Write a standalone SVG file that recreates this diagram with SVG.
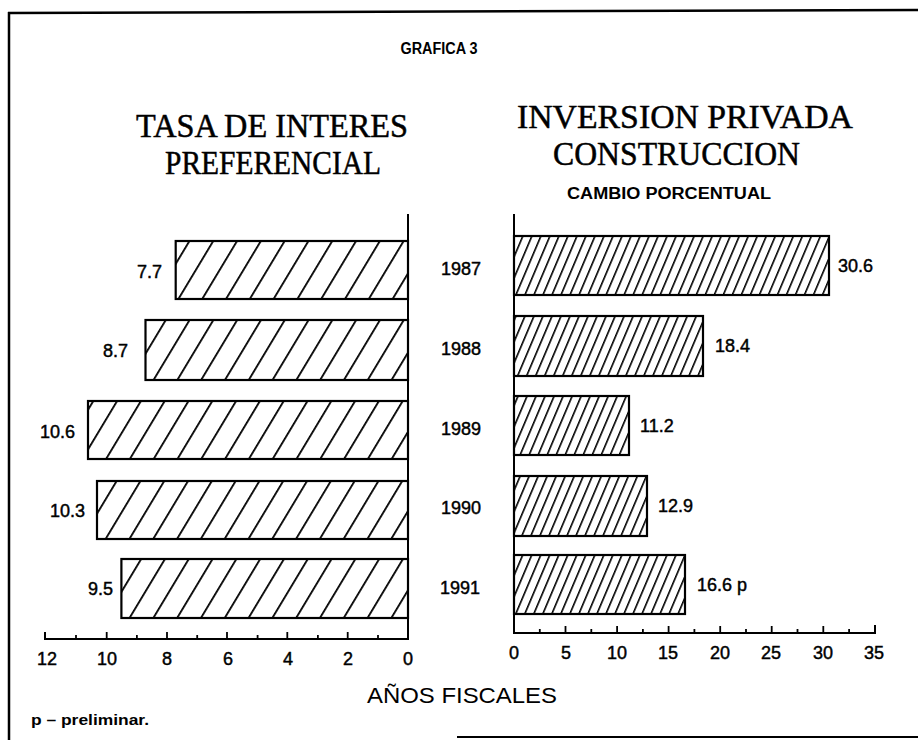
<svg xmlns="http://www.w3.org/2000/svg" width="918" height="740" viewBox="0 0 918 740">
<style>
.num{font-family:"Liberation Sans",Arial,sans-serif;font-size:18px;fill:#000;stroke:#000;stroke-width:0.45}
.ttl{font-family:"Liberation Serif","Times New Roman",serif;font-size:34px;fill:#000;stroke:#000;stroke-width:0.5}
.sans{font-family:"Liberation Sans",Arial,sans-serif;fill:#000}
.bar{stroke:#000;stroke-width:2.2}
.ax{stroke:#000;stroke-width:2;fill:none}
.tk{stroke:#000;stroke-width:1.8}
</style>
<defs>
<pattern id="hl" patternUnits="userSpaceOnUse" width="20.4" height="20" patternTransform="rotate(31)">
<rect x="0" y="0" width="1.8" height="20" fill="#000"/>
</pattern>
<pattern id="hr" patternUnits="userSpaceOnUse" width="8.3" height="20" patternTransform="rotate(23)">
<rect x="0" y="0" width="1.6" height="20" fill="#000"/>
</pattern>
</defs>
<rect width="918" height="740" fill="#fff"/>
<g id="frame">
<line x1="8" y1="13" x2="918" y2="10" stroke="#000" stroke-width="2.5"/>
<line x1="9" y1="12" x2="9" y2="740" stroke="#000" stroke-width="2.5"/>
<line x1="457" y1="737" x2="918" y2="737" stroke="#000" stroke-width="2"/>
</g>
<g id="titles">
<text class="sans" x="439" y="54" font-size="16" font-weight="bold" text-anchor="middle" textLength="77" lengthAdjust="spacingAndGlyphs">GRAFICA 3</text>
<text class="ttl" x="136" y="137" textLength="272" lengthAdjust="spacingAndGlyphs">TASA DE INTERES</text>
<text class="ttl" x="165" y="174" textLength="216" lengthAdjust="spacingAndGlyphs">PREFERENCIAL</text>
<text class="ttl" x="517" y="128" textLength="336" lengthAdjust="spacingAndGlyphs">INVERSION PRIVADA</text>
<text class="ttl" x="553" y="165" textLength="247" lengthAdjust="spacingAndGlyphs">CONSTRUCCION</text>
<text class="sans" x="567" y="199" font-size="16" font-weight="bold" textLength="204" lengthAdjust="spacingAndGlyphs">CAMBIO PORCENTUAL</text>
</g>
<g id="left-bars">
<rect class="bar" x="175.7" y="241" width="232.3" height="58" fill="url(#hl)"/>
<rect class="bar" x="145.5" y="320" width="262.5" height="60" fill="url(#hl)"/>
<rect class="bar" x="88" y="401" width="320" height="58" fill="url(#hl)"/>
<rect class="bar" x="97" y="481" width="311" height="58" fill="url(#hl)"/>
<rect class="bar" x="121.4" y="559" width="286.6" height="59" fill="url(#hl)"/>
<text class="num" x="162" y="278" text-anchor="end">7.7</text>
<text class="num" x="128" y="357" text-anchor="end">8.7</text>
<text class="num" x="75" y="438" text-anchor="end">10.6</text>
<text class="num" x="85" y="517" text-anchor="end">10.3</text>
<text class="num" x="113" y="595" text-anchor="end">9.5</text>
</g>
<g id="years">
<text class="num" x="461" y="275" text-anchor="middle">1987</text>
<text class="num" x="461" y="355" text-anchor="middle">1988</text>
<text class="num" x="461" y="435" text-anchor="middle">1989</text>
<text class="num" x="461" y="514" text-anchor="middle">1990</text>
<text class="num" x="460" y="594" text-anchor="middle">1991</text>
</g>
<g id="right-bars">
<rect class="bar" x="514" y="236" width="315" height="59" fill="url(#hr)"/>
<rect class="bar" x="514" y="316" width="189" height="60" fill="url(#hr)"/>
<rect class="bar" x="514" y="396" width="115" height="59" fill="url(#hr)"/>
<rect class="bar" x="514" y="476" width="133" height="60" fill="url(#hr)"/>
<rect class="bar" x="514" y="555" width="171" height="59" fill="url(#hr)"/>
<text class="num" x="838" y="272">30.6</text>
<text class="num" x="715" y="352">18.4</text>
<text class="num" x="640" y="432">11.2</text>
<text class="num" x="658" y="512">12.9</text>
<text class="num" x="697" y="591">16.6 p</text>
</g>
<g id="connectors">
<path class="ax" d="M408 214 V639 H45 V632"/>
<g class="tk">
<line x1="76" y1="639" x2="76" y2="635"/>
<line x1="106.7" y1="639" x2="106.7" y2="632"/>
<line x1="136.9" y1="639" x2="136.9" y2="635"/>
<line x1="167" y1="639" x2="167" y2="632"/>
<line x1="197.2" y1="639" x2="197.2" y2="635"/>
<line x1="227" y1="639" x2="227" y2="632"/>
<line x1="257.6" y1="639" x2="257.6" y2="635"/>
<line x1="287.3" y1="639" x2="287.3" y2="632"/>
<line x1="317.9" y1="639" x2="317.9" y2="635"/>
<line x1="347.7" y1="639" x2="347.7" y2="632"/>
<line x1="378" y1="639" x2="378" y2="635"/>
</g>
<path class="ax" d="M514 214 V633 H875 V625"/>
<g class="tk">
<line x1="539.8" y1="633" x2="539.8" y2="629"/>
<line x1="565.5" y1="633" x2="565.5" y2="626"/>
<line x1="591.3" y1="633" x2="591.3" y2="629"/>
<line x1="617.1" y1="633" x2="617.1" y2="626"/>
<line x1="642.9" y1="633" x2="642.9" y2="629"/>
<line x1="668.6" y1="633" x2="668.6" y2="626"/>
<line x1="694.4" y1="633" x2="694.4" y2="629"/>
<line x1="720.2" y1="633" x2="720.2" y2="626"/>
<line x1="746" y1="633" x2="746" y2="629"/>
<line x1="771.7" y1="633" x2="771.7" y2="626"/>
<line x1="797.5" y1="633" x2="797.5" y2="629"/>
<line x1="823.3" y1="633" x2="823.3" y2="626"/>
<line x1="849.1" y1="633" x2="849.1" y2="629"/>
</g>
</g>
<g id="axis-labels">
<text class="num" x="47" y="665" text-anchor="middle">12</text>
<text class="num" x="107" y="665" text-anchor="middle">10</text>
<text class="num" x="167" y="665" text-anchor="middle">8</text>
<text class="num" x="228" y="665" text-anchor="middle">6</text>
<text class="num" x="288" y="665" text-anchor="middle">4</text>
<text class="num" x="348" y="665" text-anchor="middle">2</text>
<text class="num" x="408" y="665" text-anchor="middle">0</text>
<text class="num" x="514" y="659" text-anchor="middle">0</text>
<text class="num" x="566" y="659" text-anchor="middle">5</text>
<text class="num" x="617" y="659" text-anchor="middle">10</text>
<text class="num" x="668" y="659" text-anchor="middle">15</text>
<text class="num" x="720" y="659" text-anchor="middle">20</text>
<text class="num" x="771" y="659" text-anchor="middle">25</text>
<text class="num" x="823" y="659" text-anchor="middle">30</text>
<text class="num" x="874" y="659" text-anchor="middle">35</text>
<text class="sans" x="367" y="703" font-size="22" textLength="190" lengthAdjust="spacingAndGlyphs">AÑOS FISCALES</text>
<text class="sans" x="31" y="725" font-size="14" font-weight="bold" textLength="118" lengthAdjust="spacingAndGlyphs">p – preliminar.</text>
</g>
</svg>
